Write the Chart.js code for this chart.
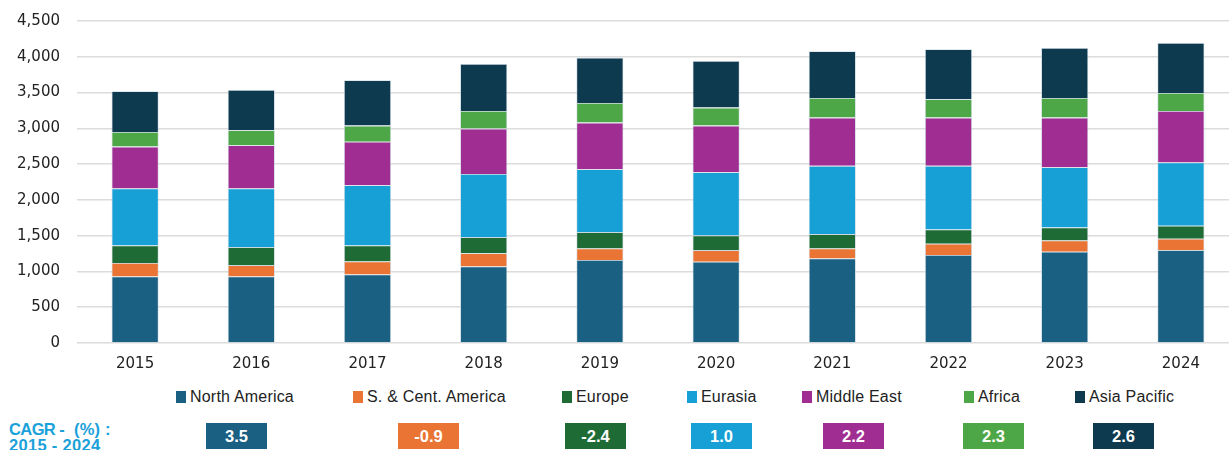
<!DOCTYPE html>
<html>
<head>
<meta charset="utf-8">
<script src="https://cdn.jsdelivr.net/npm/chart.js@4.4.1/dist/chart.umd.min.js"></script>
<style>
  html, body { margin:0; padding:0; background:#fff; overflow:hidden; width:1229px; height:450px; }
  #wrap { position:absolute; left:0; top:0; width:1229px; height:380px; overflow:hidden; }
  #c { position:absolute; left:0; top:0; }
  .leg { position:absolute; top:388px; font-family:"Liberation Sans", Arial, sans-serif; font-size:16px; letter-spacing:0.2px; color:#222; white-space:nowrap; line-height:18px; }
  .leg span.sw { display:inline-block; width:10px; height:12px; vertical-align:-1px; margin-right:4px; }
  .cagr { position:absolute; top:423px; width:61px; height:26px; color:#fff; font-family:"Liberation Sans", Arial, sans-serif; font-weight:bold; font-size:16.5px; text-align:center; line-height:26px; }
  .cl { position:absolute; font-family:"Liberation Sans", Arial, sans-serif; font-weight:bold; font-size:16.5px; color:#1ba1da; line-height:16px; white-space:pre; }
</style>
</head>
<body>
<div id="wrap"><canvas id="c" width="1239" height="380"></canvas></div>
<div class="cl" style="left:9px; top:421px; letter-spacing:-0.6px;">CAGR -</div>
<div class="cl" style="left:74px; top:421px; letter-spacing:0.2px;">(%) :</div>
<div class="cl" style="left:9px; top:437px; letter-spacing:0.3px;">2015 - 2024</div>
<script>
const years = ['2015','2016','2017','2018','2019','2020','2021','2022','2023','2024'];
const seriesNames = ['North America','S. & Cent. America','Europe','Eurasia','Middle East','Africa','Asia Pacific'];
const northAmerica = [930, 930, 958, 1069, 1159, 1135, 1182, 1229, 1275, 1298];
const southCentAmerica = [187, 159, 181, 187, 162, 163, 139, 158, 158, 158];
const europe = [246, 251, 224, 224, 229, 205, 201, 199, 181, 182];
const eurasia = [796, 819, 843, 883, 879, 884, 954, 890, 843, 884];
const middleEast = [586, 605, 608, 633, 651, 651, 674, 674, 693, 721];
const africa = [205, 209, 224, 247, 275, 252, 275, 257, 275, 252];
const asiaPacific = [568, 563, 633, 656, 633, 651, 652, 698, 698, 698];
const cagrValues = ['3.5', '-0.9', '-2.4', '1.0', '2.2', '2.3', '2.6'];
const yTicks = [0, 500, 1000, 1500, 2000, 2500, 3000, 3500, 4000, 4500];

const colors = ['#1a6082', '#e97434', '#1e6b36', '#16a0d6', '#a02d91', '#4ea746', '#0e3a50'];
const legendX = [176, 353, 562, 687, 802, 964, 1075];
const cagrX = [206, 398, 565, 691, 823, 963, 1093];
const allSeries = [northAmerica, southCentAmerica, europe, eurasia, middleEast, africa, asiaPacific];

const datasets = allSeries.map((d, i) => ({
  label: seriesNames[i],
  data: d,
  backgroundColor: colors[i],
  borderColor: 'rgba(196,212,222,0.9)',
  borderWidth: 0.8,
  barPercentage: 0.405,
  categoryPercentage: 1.0
}));

new Chart(document.getElementById('c'), {
  type: 'bar',
  data: { labels: years, datasets },
  options: {
    responsive: false,
    animation: false,
    layout: { padding: { top: 21, right: 0, bottom: 0, left: 0 } },
    plugins: { legend: { display: false }, tooltip: { enabled: false } },
    scales: {
      x: {
        stacked: true,
        grid: { display: false, drawTicks: false },
        border: { display: false },
        ticks: { font: { family: 'DejaVu Sans', size: 15 }, color: '#222', padding: 12 },
        afterFit: s => { s.height = 37; s.paddingLeft = 0; s.paddingRight = 0; }
      },
      y: {
        stacked: true,
        min: 0, max: 4500,
        afterBuildTicks: s => { s.ticks = yTicks.map(v => ({ value: v })); },
        grid: { color: '#dcdcdc', lineWidth: 1.5, drawTicks: false },
        border: { display: false },
        ticks: { font: { family: 'DejaVu Sans', size: 15 }, color: '#222', padding: 17 },
        afterFit: s => { s.width = 77; s.paddingTop = 0; s.paddingBottom = 0; }
      }
    }
  }
});

seriesNames.forEach((n, i) => {
  const el = document.createElement('div');
  el.className = 'leg';
  el.style.left = legendX[i] + 'px';
  el.innerHTML = '<span class="sw" style="background:' + colors[i] + '"></span>' + n;
  document.body.appendChild(el);
  const b = document.createElement('div');
  b.className = 'cagr';
  b.style.left = cagrX[i] + 'px';
  b.style.background = colors[i];
  b.textContent = cagrValues[i];
  document.body.appendChild(b);
});
</script>
</body>
</html>
